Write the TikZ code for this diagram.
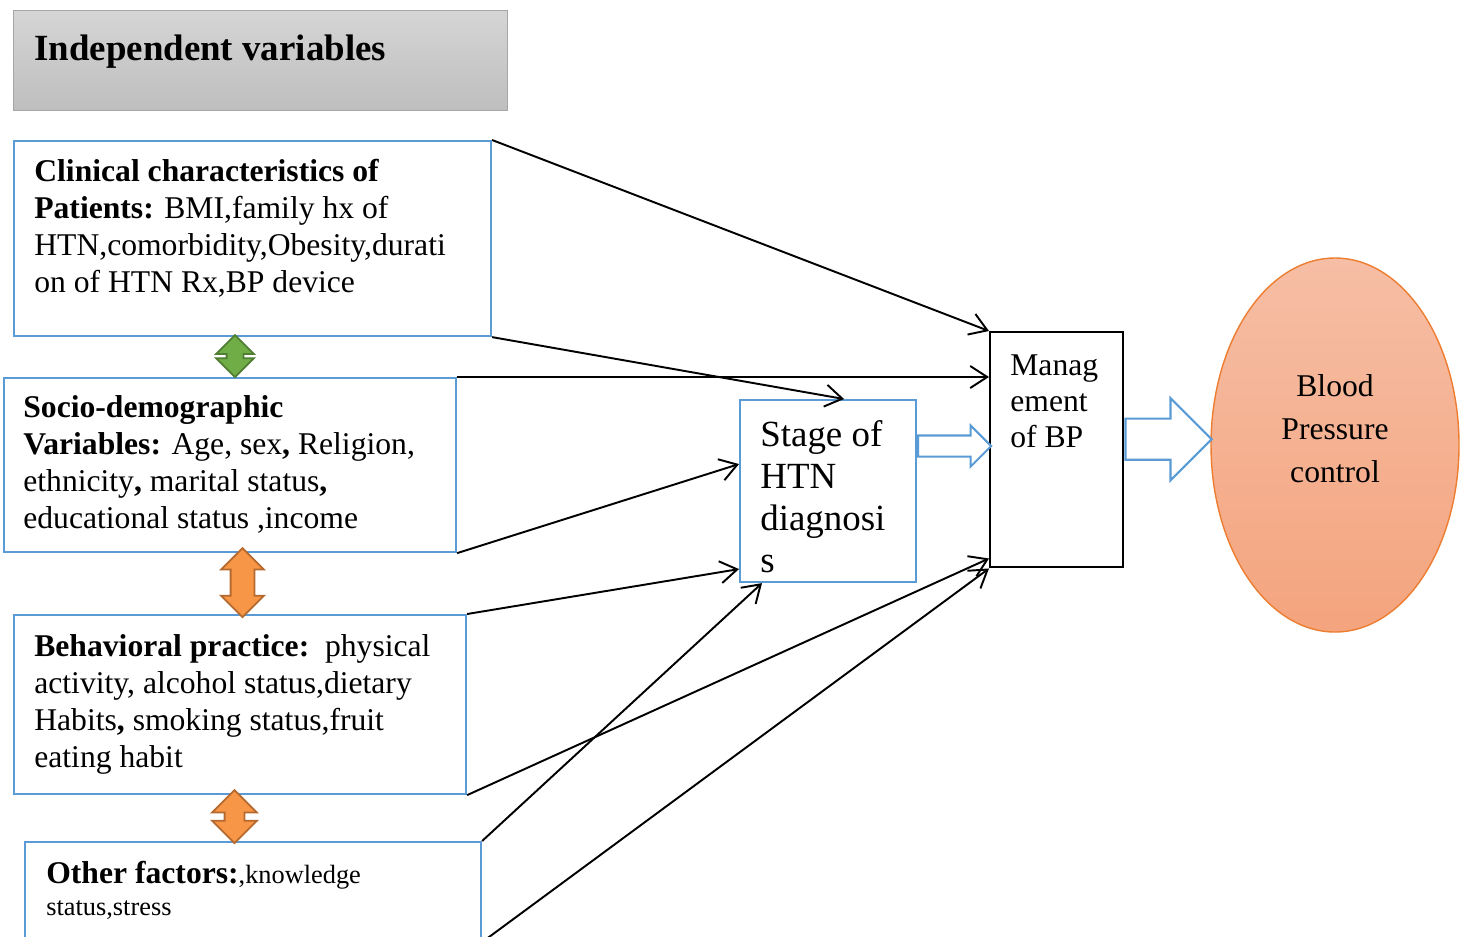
\documentclass[tikz,border=0pt]{standalone}
\usepackage{fontspec}
\setmainfont{Liberation Serif}
\usetikzlibrary{arrows.meta,positioning,shapes.geometric,shapes.arrows}
\definecolor{ivBlue}{HTML}{5B9BD5}
\definecolor{ivGrayTop}{HTML}{D5D5D5}
\definecolor{ivGrayBot}{HTML}{BEBEBE}
\definecolor{ivGrayLine}{HTML}{A6A6A6}
\definecolor{ivGreen}{HTML}{70AD47}
\definecolor{ivGreenDark}{HTML}{507E32}
\definecolor{ivOrange}{HTML}{F79646}
\definecolor{ivOrangeDark}{HTML}{B5692F}
\definecolor{ivSalmonTop}{HTML}{F6BEA5}
\definecolor{ivSalmonBot}{HTML}{F4A47E}
\definecolor{ivSalmonLine}{HTML}{ED7D31}

\begin{document}
\begin{tikzpicture}[
  >={Straight Barb[length=0.34cm,width=0.44cm]},
  factor/.style={
    draw=ivBlue,
    line width=1.2pt,
    anchor=north west,
    inner sep=0pt
  },
  factext/.style={
    anchor=north west,
    align=left,
    inner sep=0pt,
    font=\fontsize{18}{21}\selectfont
  },
  link/.style={->,line width=1.1pt},
  linkarrow/.style={
    double arrow,
    rotate=90,
    inner xsep=0pt,
    line width=1pt
  },
  blockarrow/.style={
    single arrow,
    draw=ivBlue,
    fill=white,
    line width=1.2pt,
    inner xsep=0pt,
    anchor=tail
  }
]
  \useasboundingbox (0,0) rectangle (29.34,-18.72);
  \clip (0,0) rectangle (29.34,-18.72);

  % heading
  \node[draw=ivGrayLine,line width=0.8pt,top color=ivGrayTop,bottom color=ivGrayBot,
    anchor=north west,minimum width=9.88cm,minimum height=2cm,inner sep=0pt]
    (title) at (0.26,-0.2) {};
  \node[anchor=base west,inner sep=0pt,font=\fontsize{21}{25}\selectfont\bfseries]
    (titletxt) at ([xshift=0.42cm]title.west) {Independent variables};

  % independent variable boxes
  \node[factor,minimum width=9.54cm,minimum height=3.9cm] (clin) at (0.26,-2.8) {};
  \node[factext] (clintxt) at ([xshift=0.42cm,yshift=-0.38cm]clin.north west)
    {\textbf{Clinical characteristics of}\\
     \textbf{Patients:} BMI,family hx of\\
     HTN,comorbidity,Obesity,durati\\
     on of HTN Rx,BP device};

  \node[factor,minimum width=9.04cm,minimum height=3.48cm] (socio) at (0.06,-7.54) {};
  \node[factext] (sociotxt) at ([xshift=0.4cm,yshift=-0.37cm]socio.north west)
    {\textbf{Socio-demographic}\\
     \textbf{Variables:} Age, sex\textbf{,} Religion,\\
     ethnicity\textbf{,} marital status\textbf{,}\\
     educational status ,income};

  \node[factor,minimum width=9.04cm,minimum height=3.58cm] (behav) at (0.26,-12.28) {};
  \node[factext] (behavtxt) at ([xshift=0.42cm,yshift=-0.4cm]behav.north west)
    {\textbf{Behavioral practice:}\ \ physical\\
     activity, alcohol status,dietary\\
     Habits\textbf{,} smoking status,fruit\\
     eating habit};

  \node[factor,minimum width=9.12cm,minimum height=1.98cm] (other) at (0.48,-16.82) {};
  \node[factext,font=\fontsize{15}{18.2}\selectfont] (othertxt)
    at ([xshift=0.44cm,yshift=-0.4cm]other.north west)
    {{\fontsize{18}{18.2}\selectfont\bfseries Other factors:},knowledge\\
     status,stress};

  % mediating and outcome boxes
  \node[factor,minimum width=3.52cm,minimum height=3.64cm] (stage) at (14.78,-7.98) {};
  \node[factext,font=\fontsize{21}{24}\selectfont] (stagetxt)
    at ([xshift=0.42cm,yshift=-0.42cm]stage.north west)
    {Stage of\\HTN\\diagnosi\\s};

  \node[factor,draw=black,line width=1.4pt,minimum width=2.66cm,minimum height=4.7cm]
    (mgmt) at (19.78,-6.62) {};
  \node[factext,font=\fontsize{18}{20.5}\selectfont] (mgmttxt)
    at ([xshift=0.42cm,yshift=-0.46cm]mgmt.north west)
    {Manag\\ement\\of BP};

  \node[ellipse,draw=ivSalmonLine,line width=0.8pt,top color=ivSalmonTop,
    bottom color=ivSalmonBot,minimum width=4.96cm,minimum height=7.48cm,inner sep=0pt]
    (bp) at (26.7,-8.9) {};
  \node[align=center,inner sep=0pt,font=\fontsize{18}{24.5}\selectfont] (bptxt)
    at ([yshift=0.32cm]bp.center) {Blood\\Pressure\\control};

  % two-headed arrows between the boxes
  \node[linkarrow,draw=ivGreenDark,fill=ivGreen,minimum height=0.84cm,
    inner ysep=0.15cm,double arrow head extend=0.21cm] (gdbl) at (4.7,-7.12) {};
  \node[linkarrow,draw=ivOrangeDark,fill=ivOrange,minimum height=1.38cm,
    inner ysep=0.22cm,double arrow head extend=0.19cm] (odbl) at (4.85,-11.65) {};
  \node[linkarrow,draw=ivOrangeDark,fill=ivOrange,minimum height=1.06cm,
    inner ysep=0.18cm,double arrow head extend=0.25cm] (odblb) at (4.69,-16.33) {};

  % links
  \draw[link] (clin.north east)--(mgmt.north west);
  \draw[link] (clin.south east)--([xshift=0.32cm]stage.north);
  \draw[link] (socio.north east)--(mgmt.west |- socio.north east);
  \draw[link] (socio.south east)--([yshift=0.54cm]stage.west);
  \draw[link] (behav.north east)--([yshift=-1.56cm]stage.west);
  \draw[link] (behav.south east)--([yshift=0.2cm]mgmt.south west);
  \draw[link] (other.north east)--([xshift=0.46cm]stage.south west);
  \draw[link] (other.south east)--(mgmt.south west);

  % block arrows
  \node[blockarrow,minimum height=1.46cm,inner ysep=0.19cm,
    single arrow head extend=0.2cm] (stagearr) at ([yshift=0.9cm]stage.east) {};
  \node[blockarrow,minimum height=1.72cm,inner ysep=0.39cm,
    single arrow head extend=0.41cm] (mgmtarr) at ([yshift=0.21cm]mgmt.east) {};
\end{tikzpicture}
\end{document}
